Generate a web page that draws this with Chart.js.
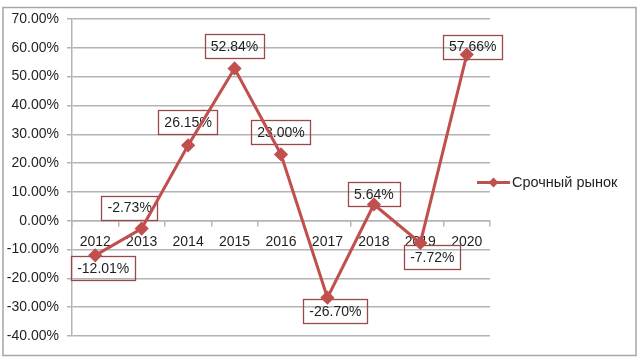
<!DOCTYPE html>
<html>
<head>
<meta charset="utf-8">
<script src="https://cdn.jsdelivr.net/npm/chart.js@4.4.1/dist/chart.umd.min.js"></script>
<style>
  html, body { margin: 0; padding: 0; background: #ffffff; }
  #wrap { width: 640px; height: 364px; position: relative; }
</style>
</head>
<body>
<div id="wrap"><canvas id="c" width="640" height="364"></canvas></div>
<script>
const categories = ['2012', '2013', '2014', '2015', '2016', '2017', '2018', '2019', '2020'];
const seriesName = 'Срочный рынок';
const values = [-12.01, -2.73, 26.15, 52.84, 23.00, -26.70, 5.64, -7.72, 57.66];
const yTicks = [-40, -30, -20, -10, 0, 10, 20, 30, 40, 50, 60, 70];

const FONT = '"Liberation Sans", Arial, sans-serif';
const TEXT = '#1f1f1f';
const RED = '#c0504d';
const GRID = '#b4b4b4';

// label box centre offsets relative to each point (px)
const labelOffsets = [[8, 12.5], [-12, -21], [0, -23], [0, -22], [0, -22], [8, 13], [0, -10], [12, 14], [6, -8]];

const framePlugin = {
  id: 'frame',
  beforeDraw(chart) {
    const ctx = chart.ctx;
    ctx.save();
    ctx.fillStyle = '#ffffff';
    ctx.fillRect(0, 0, chart.width, chart.height);
    ctx.strokeStyle = '#a6a6a6';
    ctx.lineWidth = 1.5;
    ctx.strokeRect(3, 7.5, 633, 348);
    ctx.restore();
  }
};

const labelPlugin = {
  id: 'boxLabels',
  beforeDatasetsDraw(chart) {
    const ctx = chart.ctx;
    const meta = chart.getDatasetMeta(0);
    ctx.save();
    ctx.font = '14px ' + FONT;
    ctx.textAlign = 'center';
    ctx.textBaseline = 'middle';
    meta.data.forEach((pt, i) => {
      const txt = values[i].toFixed(2) + '%';
      const w = ctx.measureText(txt).width + 12;
      const h = 24;
      const cx = pt.x + labelOffsets[i][0];
      const cy = pt.y + labelOffsets[i][1];
      ctx.strokeStyle = '#9a4848';
      ctx.lineWidth = 1.3;
      ctx.strokeRect(Math.round(cx - w / 2) + 0.5, Math.round(cy - h / 2) + 0.5, Math.round(w), h);
      ctx.fillStyle = TEXT;
      ctx.fillText(txt, cx, cy + 1);
    });
    ctx.restore();
  },
  afterDraw(chart) {
    // legend
    const ctx = chart.ctx;
    ctx.save();
    const y = 182.5;
    ctx.strokeStyle = RED;
    ctx.lineWidth = 3;
    ctx.beginPath();
    ctx.moveTo(477, y);
    ctx.lineTo(510, y);
    ctx.stroke();
    ctx.fillStyle = RED;
    ctx.beginPath();
    ctx.moveTo(493.5, y - 5);
    ctx.lineTo(498.5, y);
    ctx.lineTo(493.5, y + 5);
    ctx.lineTo(488.5, y);
    ctx.closePath();
    ctx.fill();
    ctx.fillStyle = TEXT;
    ctx.font = '14.5px ' + FONT;
    ctx.textAlign = 'left';
    ctx.textBaseline = 'middle';
    ctx.fillText(seriesName, 512, y);
    ctx.restore();
  }
};

new Chart(document.getElementById('c'), {
  type: 'line',
  data: {
    labels: categories,
    datasets: [{
      label: seriesName,
      data: values,
      borderColor: RED,
      backgroundColor: RED,
      borderWidth: 3,
      pointStyle: 'rectRot',
      pointRadius: 5,
      pointHoverRadius: 5,
      tension: 0,
      fill: false
    }]
  },
  options: {
    responsive: false,
    animation: false,
    events: [],
    layout: { padding: { top: 19, bottom: 28, left: 0, right: 150 } },
    plugins: {
      legend: { display: false },
      tooltip: { enabled: false },
      title: { display: false }
    },
    scales: {
      x: {
        type: 'category',
        position: { y: 0 },
        offset: true,
        grid: {
          offset: true,
          drawOnChartArea: false,
          drawTicks: true,
          tickLength: 5,
          color: GRID,
          lineWidth: 1.5
        },
        border: { display: true, color: GRID, width: 1.5 },
        ticks: {
          color: TEXT,
          font: { family: FONT, size: 14 },
          padding: 8,
          maxRotation: 0,
          autoSkip: false
        }
      },
      y: {
        min: -40,
        max: 70,
        afterFit(scale) { scale.width = 72; },
        afterBuildTicks(scale) { scale.ticks = yTicks.map(v => ({ value: v })); },
        grid: {
          color: GRID,
          lineWidth: 1.5,
          drawTicks: true,
          tickLength: 5
        },
        border: { display: true, color: GRID, width: 1.5 },
        ticks: {
          color: TEXT,
          font: { family: FONT, size: 14 },
          padding: 8,
          callback: (v) => Number(v).toFixed(2) + '%'
        }
      }
    }
  },
  plugins: [framePlugin, labelPlugin]
});
</script>
</body>
</html>
